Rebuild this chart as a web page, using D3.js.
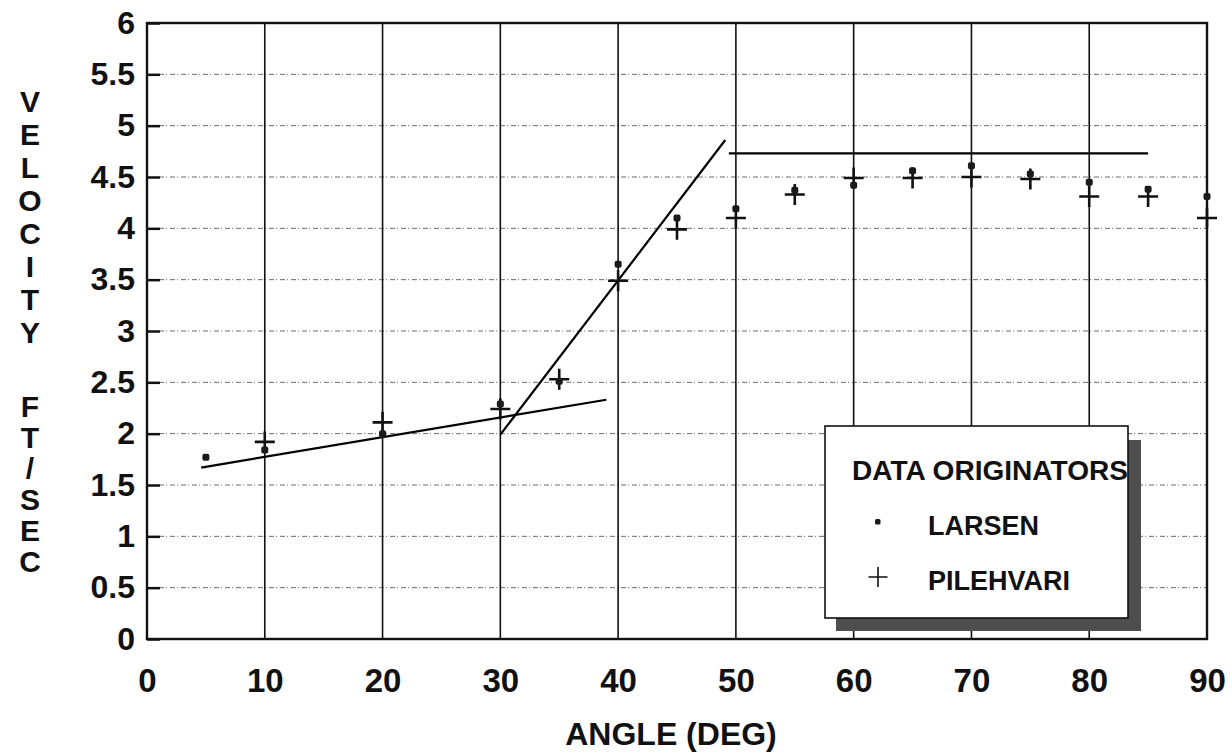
<!DOCTYPE html>
<html>
<head>
<meta charset="utf-8">
<script src="https://cdn.jsdelivr.net/npm/d3@7"></script>
<style>
  html, body { margin: 0; padding: 0; background: #fff; }
  svg { display: block; }
  text { font-family: "Liberation Sans", Arial, Helvetica, sans-serif; font-weight: bold; fill: #111; }
</style>
</head>
<body>
<svg id="chart" width="1232" height="754"></svg>
<script>
// Critical transport velocity vs. pipe inclination angle
const larsenAngles = [5, 10, 20, 30, 35, 40, 45, 50, 55, 60, 65, 70, 75, 80, 85, 90];
const larsenVelocity = [1.77, 1.84, 2.0, 2.29, 2.51, 3.65, 4.1, 4.19, 4.37, 4.42, 4.56, 4.61, 4.53, 4.45, 4.38, 4.31];

const pilehvariAngles = [10, 20, 30, 35, 40, 45, 50, 55, 60, 65, 70, 75, 80, 85, 90];
const pilehvariVelocity = [1.92, 2.11, 2.24, 2.53, 3.49, 3.99, 4.1, 4.33, 4.49, 4.49, 4.5, 4.48, 4.31, 4.31, 4.1];

// Hand-drawn trend segments [angle, velocity]
const lowAngleTrend = [[4.6, 1.67], [39.0, 2.33]];
const transitionTrend = [[30, 1.99], [49.1, 4.86]];
const highAngleTrend = [[49.4, 4.73], [85, 4.73]];

const xTicks = [0, 10, 20, 30, 40, 50, 60, 70, 80, 90];
const yTicks = [0, 0.5, 1, 1.5, 2, 2.5, 3, 3.5, 4, 4.5, 5, 5.5, 6];
const yTickLabels = ["0", "0.5", "1", "1.5", "2", "2.5", "3", "3.5", "4", "4.5", "5", "5.5", "6"];

const xTitle = "ANGLE (DEG)";
const yTitleTop = "VELOCITY";
const yTitleBottom = "FT/SEC";
const legendTitle = "DATA ORIGINATORS";
const seriesNames = ["LARSEN", "PILEHVARI"];

const svg = d3.select("#chart");
const plotLeft = 147, plotRight = 1207, plotTop = 23, plotBottom = 639;

const x = d3.scaleLinear().domain([0, 90]).range([plotLeft, plotRight]);
const y = d3.scaleLinear().domain([0, 6]).range([plotBottom, plotTop]);

// Horizontal dotted grid lines
svg.append("g")
  .selectAll("line")
  .data(yTicks.filter(v => v > 0 && v < 6))
  .join("line")
  .attr("x1", plotLeft + 12).attr("x2", plotRight)
  .attr("y1", d => y(d)).attr("y2", d => y(d))
  .attr("stroke", "#6a6a6a")
  .attr("stroke-width", 1)
  .attr("stroke-dasharray", "5 2 1 3");

// Vertical solid grid lines
svg.append("g")
  .selectAll("line")
  .data(xTicks.filter(v => v > 0 && v < 90))
  .join("line")
  .attr("x1", d => x(d)).attr("x2", d => x(d))
  .attr("y1", plotTop).attr("y2", plotBottom)
  .attr("stroke", "#111")
  .attr("stroke-width", 1.6);

// Y axis: inward ticks and labels
const yAxis = d3.axisLeft(y)
  .tickValues(yTicks)
  .tickSize(-13)
  .tickPadding(12)
  .tickFormat((d, i) => yTickLabels[i]);
const gy = svg.append("g").attr("transform", `translate(${plotLeft},0)`).call(yAxis);
gy.select(".domain").remove();
gy.selectAll(".tick line").attr("stroke", "#111").attr("stroke-width", 2.5);
gy.selectAll(".tick text")
  .attr("font-size", 32)
  .attr("font-family", "Liberation Sans, Arial, sans-serif")
  .attr("font-weight", "bold")
  .attr("fill", "#111");

// X axis labels
const xAxis = d3.axisBottom(x).tickValues(xTicks).tickSize(0).tickPadding(30);
const gx = svg.append("g").attr("transform", `translate(0,${plotBottom})`).call(xAxis);
gx.select(".domain").remove();
gx.selectAll(".tick text")
  .attr("font-size", 33)
  .attr("font-family", "Liberation Sans, Arial, sans-serif")
  .attr("font-weight", "bold")
  .attr("fill", "#111");

// Plot frame
svg.append("rect")
  .attr("x", plotLeft).attr("y", plotTop)
  .attr("width", plotRight - plotLeft).attr("height", plotBottom - plotTop)
  .attr("fill", "none")
  .attr("stroke", "#111")
  .attr("stroke-width", 2.4);

// Trend lines
const line = d3.line().x(d => x(d[0])).y(d => y(d[1]));
svg.append("g")
  .selectAll("path")
  .data([lowAngleTrend, transitionTrend, highAngleTrend])
  .join("path")
  .attr("d", line)
  .attr("fill", "none")
  .attr("stroke", "#000")
  .attr("stroke-width", 2.2);

// Pilehvari crosses
const crossPath = (cx, cy, w, h) =>
  `M${cx - w / 2},${cy}H${cx + w / 2}M${cx},${cy - h / 2}V${cy + h / 2}`;
svg.append("g")
  .selectAll("path")
  .data(pilehvariAngles.map((a, i) => [a, pilehvariVelocity[i]]))
  .join("path")
  .attr("d", d => crossPath(x(d[0]), y(d[1]), 20, 21))
  .attr("stroke", "#111")
  .attr("stroke-width", 2.6)
  .attr("fill", "none");

// Larsen dots
svg.append("g")
  .selectAll("rect")
  .data(larsenAngles.map((a, i) => [a, larsenVelocity[i]]))
  .join("rect")
  .attr("x", d => x(d[0]) - 3.5)
  .attr("y", d => y(d[1]) - 3.5)
  .attr("width", 7).attr("height", 7)
  .attr("rx", 2)
  .attr("fill", "#1a1a1a");

// Axis titles
svg.append("text")
  .attr("x", 671).attr("y", 745)
  .attr("text-anchor", "middle")
  .attr("font-size", 32)
  .text(xTitle);

const yTitle = svg.append("g").attr("font-size", 30).attr("text-anchor", "middle");
yTitleTop.split("").forEach((ch, i) => {
  yTitle.append("text").attr("x", 30).attr("y", 112 + i * 33).text(ch);
});
yTitleBottom.split("").forEach((ch, i) => {
  yTitle.append("text").attr("x", 30).attr("y", 417 + i * 31).text(ch);
});

// Legend with drop shadow
const legend = svg.append("g");
legend.append("rect")
  .attr("x", 836).attr("y", 440).attr("width", 305).attr("height", 191)
  .attr("fill", "#4e4e4e");
legend.append("rect")
  .attr("x", 825).attr("y", 426).attr("width", 303).attr("height", 192)
  .attr("fill", "#fff")
  .attr("stroke", "#111")
  .attr("stroke-width", 1.6);
legend.append("text")
  .attr("x", 852).attr("y", 480)
  .attr("font-size", 27)
  .attr("textLength", 276)
  .attr("lengthAdjust", "spacingAndGlyphs")
  .text(legendTitle);
legend.append("rect")
  .attr("x", 875).attr("y", 519).attr("width", 5.5).attr("height", 5.5)
  .attr("rx", 1.5).attr("fill", "#1a1a1a");
legend.append("path")
  .attr("d", crossPath(878, 577, 19, 20))
  .attr("stroke", "#111").attr("stroke-width", 1.6);
legend.append("text")
  .attr("x", 928).attr("y", 535).attr("font-size", 27).text(seriesNames[0]);
legend.append("text")
  .attr("x", 928).attr("y", 590).attr("font-size", 27).text(seriesNames[1]);
</script>
</body>
</html>
